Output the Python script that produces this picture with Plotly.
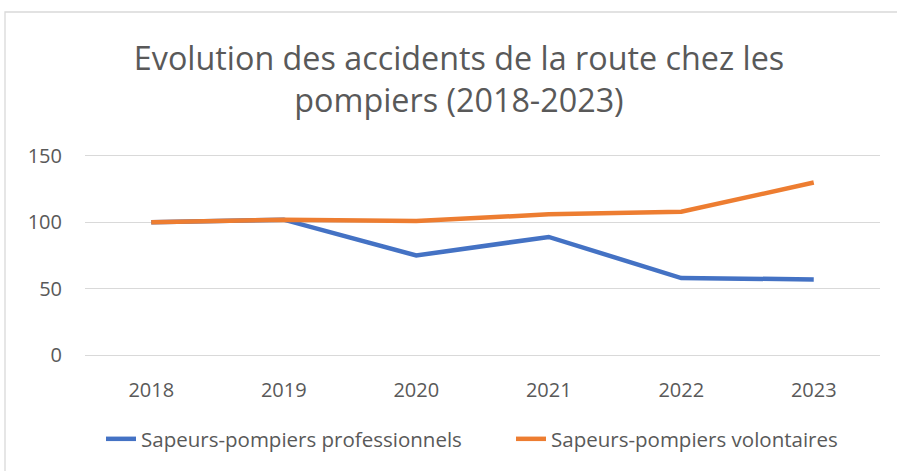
import plotly.graph_objects as go

years = ["2018", "2019", "2020", "2021", "2022", "2023"]
professionnels = [100, 102, 75, 89, 58, 57]
volontaires = [100, 102, 101, 106, 108, 130]
y_ticks = [0, 50, 100, 150]

W, H = 897, 471
L, R, T, B = 85, 17, 156, 116
pw, ph = W - L - R, H - T - B

fig = go.Figure()
fig.add_trace(go.Scatter(x=years, y=professionnels, mode="lines",
                         name="Sapeurs-pompiers professionnels",
                         line=dict(color="#4472C4", width=4.5), legend="legend"))
fig.add_trace(go.Scatter(x=years, y=volontaires, mode="lines",
                         name="Sapeurs-pompiers volontaires",
                         line=dict(color="#ED7D31", width=4.5), legend="legend2"))

font_family = "Open Sans"
legend_common = dict(orientation="h", xref="container", xanchor="left",
                     y=1 - 439 / H, yref="container", yanchor="middle",
                     font=dict(size=20.5, color="#595959"), itemwidth=30,
                     bgcolor="rgba(0,0,0,0)")
fig.update_layout(
    width=W, height=H,
    margin=dict(l=L, r=R, t=T, b=B),
    paper_bgcolor="white", plot_bgcolor="white",
    font=dict(family=font_family, color="#595959", size=20),
    title=dict(text="Evolution des accidents de la route chez les<br>pompiers (2018-2023)",
               x=459 / W, xref="container", xanchor="center",
               y=1 - 70 / H, yref="container", yanchor="middle",
               font=dict(size=32.3, color="#595959", family=font_family)),
    xaxis=dict(range=[-0.5, 5.5], showgrid=False, zeroline=False,
               showline=True, mirror=True, linecolor="#D9D9D9", linewidth=1.3,
               ticks="", ticklabelstandoff=17,
               tickfont=dict(size=20, color="#595959")),
    yaxis=dict(range=[0, 150], tickvals=y_ticks, showgrid=True,
               gridcolor="#D9D9D9", gridwidth=1.3, zeroline=False,
               showline=False, ticks="", ticklabelstandoff=22,
               tickfont=dict(size=20, color="#595959")),
    showlegend=True,
    legend=dict(x=101 / W, **legend_common),
    legend2=dict(x=511 / W, **legend_common),
)

# chart border (Excel chart area outline)
fig.add_shape(type="rect", xref="paper", yref="paper",
              x0=(5 - L) / pw, x1=(W + 10 - L) / pw,
              y0=-(B + 20) / ph, y1=1 + (T - 12) / ph,
              line=dict(color="#D9D9D9", width=1.3), layer="below")

fig.write_html("out.html", config={"displayModeBar": False},
               post_script="document.body.style.margin='0';")
